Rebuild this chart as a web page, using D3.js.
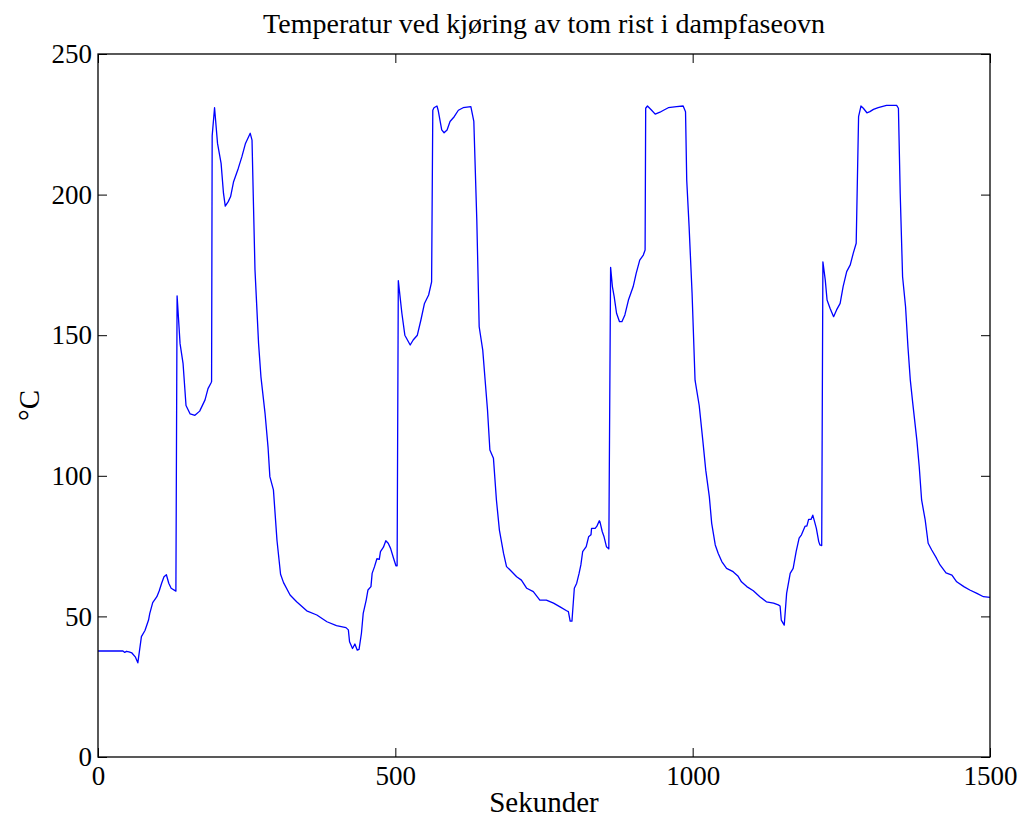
<!DOCTYPE html>
<html>
<head>
<meta charset="utf-8">
<script src="https://cdn.jsdelivr.net/npm/d3@7"></script>
<style>
  body { margin: 0; background: #fff; }
  text { font-family: "Liberation Serif", "Times New Roman", serif; fill: #000; }
</style>
</head>
<body>
<div id="chart"></div>
<script>
// Time (s) and temperature (°C)
const seconds = [
  0, 42, 45, 48, 52, 57, 63, 67, 73, 79, 85, 87, 92, 99, 103, 107, 111, 115, 119, 123, 131,
  133, 138, 143, 148, 155, 163, 171, 180, 185, 190, 191,
  192, 196, 201, 207, 211, 214, 219, 223, 228, 236, 242, 248, 256, 259, 261, 264, 270, 274,
  281, 286, 289, 295, 301, 307, 312, 323, 334, 351, 368, 385, 401, 417, 421, 423, 428, 432, 436, 439,
  443, 446, 451, 454, 459, 461, 465, 469, 473, 475, 480, 484, 488, 492, 497, 501, 503,
  505, 511, 516, 525, 530, 537, 543, 549, 556, 561,
  563, 565, 570, 572, 578, 582, 587, 592, 599, 606, 614, 627, 632, 637, 641, 647, 651, 655,
  659, 665, 670, 675, 682, 687, 693, 704, 712, 721, 732, 743, 754, 766, 777, 788, 791, 794, 797,
  801, 805, 809, 812, 815, 821, 825, 829, 830, 836, 839, 843, 844, 848, 851, 855, 858, 859,
  862, 865, 868, 872, 877, 881, 886, 892, 896, 900, 905, 911, 917, 920,
  921, 924, 931, 937, 945, 951, 959, 973, 984, 988, 990, 994, 999, 1004, 1011, 1017,
  1022, 1028, 1032, 1038, 1043, 1049, 1057, 1068, 1076, 1082, 1091, 1102, 1113, 1124, 1136, 1144, 1147,
  1149, 1154, 1158, 1164, 1169, 1174, 1179, 1183, 1189, 1192, 1195, 1199, 1202, 1205, 1208, 1212, 1214, 1217,
  1219, 1223, 1226, 1231, 1237, 1242, 1248, 1253, 1259, 1265, 1270, 1275,
  1279, 1283, 1287, 1293, 1298, 1304, 1312, 1326, 1343, 1346, 1349, 1353, 1358, 1362, 1366, 1370, 1377,
  1381, 1385, 1391, 1396, 1402, 1410, 1416, 1426, 1436, 1444, 1456, 1466, 1478, 1489, 1500
];
const tempC = [
  37.7, 37.7, 37.2, 37.6, 37.4, 37.0, 35.5, 33.5, 42.8, 45.0, 48.7, 51.0, 54.9, 57.0, 59.1, 61.8, 64.1, 64.8, 61.8, 60.0, 59.0,
  164.0, 147.0, 140.0, 125.0, 122.0, 121.5, 123.0, 127.0, 131.0, 133.0, 133.5,
  220.9, 230.9, 218.2, 211.1, 200.5, 195.9, 197.5, 199.3, 204.6, 209.4, 213.5, 218.2, 221.8, 219.4, 200.5, 173.2, 147.1, 135.2,
  122.0, 110.0, 99.7, 95.0, 77.0, 65.0, 62.0, 57.6, 55.2, 52.0, 50.5, 48.1, 46.7, 46.0, 45.2, 41.0, 38.6, 40.2, 38.0, 38.3,
  44.0, 51.1, 55.8, 59.4, 60.6, 65.3, 67.7, 70.5, 70.3, 73.0, 74.6, 76.9, 76.0, 74.2, 70.7, 68.0, 68.0,
  169.4, 157.8, 150.0, 146.5, 148.3, 150.0, 155.4, 161.3, 164.3, 169.0,
  230.0, 230.9, 231.5, 230.0, 223.0, 222.0, 223.0, 226.0, 227.7, 230.0, 230.9, 231.3, 226.0, 191.0, 153.0, 144.7, 134.0, 123.4,
  109.2, 106.2, 91.4, 80.7, 72.4, 67.7, 66.5, 64.1, 62.9, 60.0, 58.8, 55.8, 55.8, 54.7, 53.4, 52.0, 51.7, 48.3, 48.3,
  60.0, 61.8, 65.3, 68.3, 73.0, 74.8, 78.3, 79.0, 81.3, 81.3, 82.1, 84.0, 83.7, 80.1, 78.3, 74.8, 74.2, 74.0,
  174.1, 167.3, 163.7, 157.8, 154.8, 154.8, 157.2, 162.5, 164.9, 167.3, 172.0, 176.7, 178.5, 180.3,
  230.7, 231.5, 230.0, 228.6, 229.3, 230.0, 230.9, 231.3, 231.5, 229.5, 205.2, 188.6, 164.9, 134.0, 125.0, 112.7,
  102.0, 92.6, 83.1, 75.4, 72.4, 69.5, 67.1, 65.9, 64.4, 62.3, 60.6, 59.1, 57.0, 55.2, 54.7, 54.1, 53.7,
  48.7, 46.9, 58.2, 65.3, 67.1, 73.0, 77.8, 79.0, 82.1, 82.1, 84.5, 84.5, 86.0, 83.7, 81.3, 76.6, 75.4, 75.2,
  176.1, 169.6, 162.5, 159.6, 156.6, 159.0, 161.3, 167.3, 172.6, 175.0, 179.1, 182.7,
  227.7, 231.5, 230.7, 229.1, 229.5, 230.3, 230.9, 231.7, 231.7, 230.7, 200.5, 170.8, 160.1, 145.9, 134.0, 126.0, 112.7,
  103.2, 91.4, 84.3, 76.0, 73.6, 70.7, 68.3, 65.5, 64.7, 62.3, 60.6, 59.4, 58.2, 57.0, 56.8
];
const xTicks = [0, 500, 1000, 1500];
const yTicks = [0, 50, 100, 150, 200, 250];

const title = "Temperatur ved kjøring av tom rist i dampfaseovn";
const xLabel = "Sekunder";
const yLabel = "°C";

const width = 1021;
const height = 820;
const margin = { top: 54, right: 31, bottom: 63, left: 98 };
const innerW = width - margin.left - margin.right;
const innerH = height - margin.top - margin.bottom;

const svg = d3.select("#chart")
    .append("svg")
    .attr("width", width)
    .attr("height", height);

const g = svg.append("g")
    .attr("transform", `translate(${margin.left},${margin.top})`);

const x = d3.scaleLinear().domain([0, 1500]).range([0, innerW]);
const y = d3.scaleLinear().domain([0, 250]).range([innerH, 0]);

const data = seconds.map((s, i) => ({ s, v: tempC[i] }));

// line
g.append("path")
    .datum(data)
    .attr("fill", "none")
    .attr("stroke", "#0000ff")
    .attr("stroke-width", 1.3)
    .attr("stroke-linejoin", "round")
    .attr("d", d3.line().x(d => x(d.s)).y(d => y(d.v)));

// axes, MATLAB style: ticks point inward on all four sides
const styleAxis = sel => {
    sel.select(".domain").remove();
    sel.selectAll(".tick line").attr("stroke", "#000").attr("stroke-width", 1);
    sel.selectAll(".tick text")
        .style("font-family", "'Liberation Serif', 'Times New Roman', serif")
        .style("font-size", "27px")
        .attr("fill", "#000");
};

g.append("g")
    .attr("transform", `translate(0,${innerH})`)
    .call(d3.axisBottom(x).tickValues(xTicks).tickFormat(d3.format("d"))
        .tickSizeInner(-9).tickSizeOuter(0).tickPadding(9))
    .call(styleAxis);

g.append("g")
    .call(d3.axisLeft(y).tickValues(yTicks).tickFormat(d3.format("d"))
        .tickSizeInner(-9).tickSizeOuter(0).tickPadding(6))
    .call(styleAxis);

g.append("g")
    .call(d3.axisTop(x).tickValues(xTicks).tickFormat("")
        .tickSizeInner(-9).tickSizeOuter(0))
    .call(styleAxis);

g.append("g")
    .attr("transform", `translate(${innerW},0)`)
    .call(d3.axisRight(y).tickValues(yTicks).tickFormat("")
        .tickSizeInner(-9).tickSizeOuter(0))
    .call(styleAxis);

// box
g.append("rect")
    .attr("width", innerW)
    .attr("height", innerH)
    .attr("fill", "none")
    .attr("stroke", "#000")
    .attr("stroke-width", 1.3);

// labels
svg.append("text")
    .attr("x", margin.left + innerW / 2)
    .attr("y", 33)
    .attr("text-anchor", "middle")
    .style("font-size", "28px")
    .text(title);

svg.append("text")
    .attr("x", margin.left + innerW / 2)
    .attr("y", 812)
    .attr("text-anchor", "middle")
    .style("font-size", "29px")
    .text(xLabel);

svg.append("text")
    .attr("transform", `translate(39,${margin.top + innerH / 2}) rotate(-90)`)
    .attr("text-anchor", "middle")
    .style("font-size", "29px")
    .text(yLabel);
</script>
</body>
</html>
